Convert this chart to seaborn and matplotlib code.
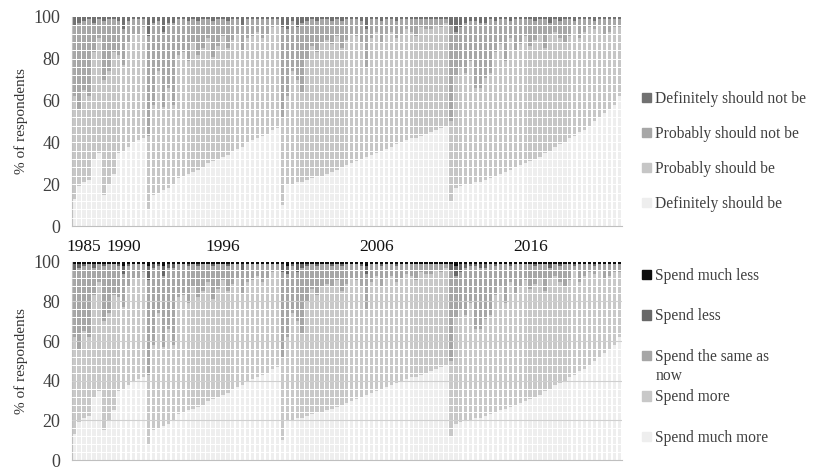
import numpy as np
import pandas as pd
import matplotlib
matplotlib.use("Agg")
import matplotlib.pyplot as plt
from matplotlib.patches import Patch
import seaborn as sns

# top panel: "should it be the government's responsibility" (4 groups of items, 111 bars)
definitely_should = [
    13, 19, 21, 22, 32, 35, 15, 20, 25, 35, 36, 38, 40, 41, 42,
    8, 15, 16, 17, 18, 20, 23, 24, 25, 26, 27, 28, 30, 31, 32, 33, 34, 36, 37, 38, 40, 41, 42, 43, 44, 46, 47,
    10, 20, 20, 21, 21, 22, 23, 24, 24, 25, 26, 27, 28, 29, 30, 31, 32, 33, 34, 35, 36, 37, 38, 39, 40, 41,
    42, 42, 43, 44, 45, 46, 47, 48,
    12, 18, 19, 20, 20, 21, 21, 22, 23, 24, 25, 26, 27, 28, 29, 30, 31, 32, 33, 35, 36, 38, 39, 40, 42, 43,
    45, 46, 48, 50, 52, 54, 56, 58, 62,
]
probably_should = [
    49, 37, 44, 40, 51, 55, 55, 54, 58, 47, 41, 50, 52, 51, 53,
    35, 43, 58, 40, 48, 38, 59, 59, 54, 62, 55, 57, 60, 50, 54, 58, 51, 53, 55, 46, 50, 50, 51, 47, 48, 49, 49,
    42, 42, 54, 49, 43, 58, 63, 59, 64, 64, 61, 64, 57, 60, 62, 60, 56, 43, 56, 58, 52, 55, 55, 51, 52, 53,
    51, 49, 52, 50, 49, 50, 48, 49,
    38, 54, 57, 53, 59, 45, 45, 49, 50, 59, 62, 53, 63, 56, 58, 61, 55, 57, 59, 50, 56, 55, 51, 48, 49, 53,
    45, 47, 47, 44, 44, 38, 37, 37, 33,
]
probably_not = [
    34, 41, 33, 37, 14, 9, 28, 25, 16, 16, 17, 10, 7, 7, 4,
    48, 39, 24, 36, 31, 39, 17, 16, 19, 11, 16, 14, 9, 17, 13, 8, 13, 10, 7, 12, 9, 8, 6, 9, 7, 4, 3,
    43, 32, 24, 25, 33, 18, 13, 15, 11, 10, 11, 8, 13, 10, 7, 8, 10, 18, 9, 6, 10, 7, 6, 8, 7, 5,
    6, 8, 4, 5, 5, 3, 4, 2,
    46, 21, 19, 24, 19, 32, 31, 26, 26, 15, 12, 20, 8, 15, 12, 8, 13, 9, 7, 14, 5, 6, 8, 11, 8, 2,
    9, 6, 4, 4, 3, 7, 6, 4, 4,
]
definitely_not = [
    4, 3, 2, 1, 3, 1, 2, 1, 1, 2, 6, 2, 1, 1, 1,
    9, 3, 2, 7, 3, 3, 1, 1, 2, 1, 2, 1, 1, 2, 1, 1, 2, 1, 1, 4, 1, 1, 1, 1, 1, 1, 1,
    5, 6, 2, 5, 3, 2, 1, 2, 1, 1, 2, 1, 2, 1, 1, 1, 2, 6, 1, 1, 2, 1, 1, 2, 1, 1,
    1, 1, 1, 1, 1, 1, 1, 1,
    4, 7, 5, 3, 2, 2, 3, 3, 1, 2, 1, 1, 2, 1, 1, 1, 1, 2, 1, 1, 3, 1, 2, 1, 1, 2,
    1, 1, 1, 2, 1, 1, 1, 1, 1,
]

# bottom panel: spending preferences (reads almost the same as the top panel)
spend_much_more = definitely_should
spend_more = probably_should
spend_same = probably_not
spend_less = [
    3, 2, 1, 0, 2, 0, 1, 0, 0, 1, 4, 1, 0, 0, 0,
    7, 2, 1, 5, 2, 2, 0, 0, 1, 0, 1, 0, 0, 1, 0, 0, 1, 0, 0, 3, 0, 0, 0, 0, 0, 0, 0,
    4, 4, 1, 4, 2, 1, 0, 1, 0, 0, 1, 0, 1, 0, 0, 0, 1, 4, 0, 0, 1, 0, 0, 1, 0, 0,
    0, 0, 0, 0, 0, 0, 0, 0,
    3, 5, 4, 2, 1, 1, 2, 2, 0, 1, 0, 0, 1, 0, 0, 0, 0, 1, 0, 0, 2, 0, 1, 0, 0, 1,
    0, 0, 0, 1, 0, 0, 0, 0, 0,
]
spend_much_less = [
    1, 1, 1, 1, 1, 1, 1, 1, 1, 1, 2, 1, 1, 1, 1,
    2, 1, 1, 2, 1, 1, 1, 1, 1, 1, 1, 1, 1, 1, 1, 1, 1, 1, 1, 1, 1, 1, 1, 1, 1, 1, 1,
    1, 2, 1, 1, 1, 1, 1, 1, 1, 1, 1, 1, 1, 1, 1, 1, 1, 2, 1, 1, 1, 1, 1, 1, 1, 1,
    1, 1, 1, 1, 1, 1, 1, 1,
    1, 2, 1, 1, 1, 1, 1, 1, 1, 1, 1, 1, 1, 1, 1, 1, 1, 1, 1, 1, 1, 1, 1, 1, 1, 1,
    1, 1, 1, 1, 1, 1, 1, 1, 1,
]

year_labels = ["1985", "1990", "1996", "2006", "2016"]
year_bars = [2, 10, 30, 61, 92]

top_labels = ["Definitely should be", "Probably should be",
              "Probably should not be", "Definitely should not be"]
top_colors = ["#eeeeee", "#c6c6c6", "#a7a7a7", "#717171"]
bot_labels = ["Spend much more", "Spend more", "Spend the same as",
              "Spend less", "Spend much less"]
bot_colors = ["#eeeeee", "#c8c8c8", "#a6a6a6", "#686868", "#0d0d0d"]

sns.set_style("white")
plt.rcParams["font.family"] = ["Liberation Serif", "DejaVu Serif"]
text_col = "#404040"
leg_size = 11.2


def stacked(ax, series, colors, major_grey):
    n = len(series[0])
    df = pd.DataFrame({"bar": np.arange(n)})
    cum = np.cumsum(np.array(series, dtype=float), axis=0)
    # draw tallest first so the shorter stacks sit on top
    for k in range(len(series) - 1, -1, -1):
        df["h"] = cum[k]
        sns.barplot(data=df, x="bar", y="h", color=colors[k], saturation=1,
                    width=0.68, errorbar=None, linewidth=0, ax=ax)
    for y in range(4, 100, 4):
        if y % 20 == 0 and major_grey:
            ax.axhline(y, color="#cfcfcf", lw=0.8, zorder=5)
        else:
            ax.axhline(y, color="white", lw=0.7, zorder=5)
    ax.set_xlim(-0.5, n - 0.5)
    ax.set_ylim(0, 100)
    ax.set_yticks(range(0, 101, 20))
    ax.set_xticks([])
    ax.set_xlabel("")
    ax.set_ylabel("% of respondents", fontsize=11, color="#333333", labelpad=4)
    ax.tick_params(axis="y", length=0, pad=8, labelsize=13, labelcolor=text_col)
    for s in ["top", "right"]:
        ax.spines[s].set_visible(False)
    for s in ["left", "bottom"]:
        ax.spines[s].set_color("#bfbfbf")
        ax.spines[s].set_linewidth(0.8)


fig = plt.figure(figsize=(8.15, 4.69), dpi=100)
ax1 = fig.add_axes([0.088, 0.518, 0.675, 0.446])
ax2 = fig.add_axes([0.088, 0.019, 0.675, 0.423])

stacked(ax1, [definitely_should, probably_should, probably_not, definitely_not],
        top_colors, False)
stacked(ax2, [spend_much_more, spend_more, spend_same, spend_less, spend_much_less],
        bot_colors, True)

ax2.xaxis.set_ticks_position("top")
ax2.set_xticks(year_bars)
ax2.set_xticklabels(year_labels)
ax2.tick_params(axis="x", length=0, pad=5, labelsize=12.5, labelcolor="#111111")

h1 = [Patch(color=c) for c in top_colors][::-1]
fig.legend(h1, top_labels[::-1], loc="center left", bbox_to_anchor=(0.788, 0.677),
           frameon=False, fontsize=leg_size, labelspacing=1.23, handlelength=0.55,
           handleheight=0.55, handletextpad=0.3, borderpad=0, borderaxespad=0,
           labelcolor=text_col)
h2 = [Patch(color=c) for c in bot_colors][::-1]
leg2 = fig.legend(h2, bot_labels[::-1], loc="center left", bbox_to_anchor=(0.788, 0.239),
                  frameon=False, fontsize=leg_size, labelspacing=1.57, handlelength=0.55,
                  handleheight=0.55, handletextpad=0.3, borderpad=0, borderaxespad=0,
                  labelcolor=text_col)

# second line of the wrapped "Spend the same as now" label
fig.canvas.draw()
same_txt = leg2.get_texts()[2]
bb = same_txt.get_window_extent().transformed(fig.transFigure.inverted())
fig.text(bb.x0, bb.y0 - 0.041, "now", fontsize=leg_size, color=text_col,
         ha="left", va="bottom")

fig.savefig("out.png", dpi=100)
